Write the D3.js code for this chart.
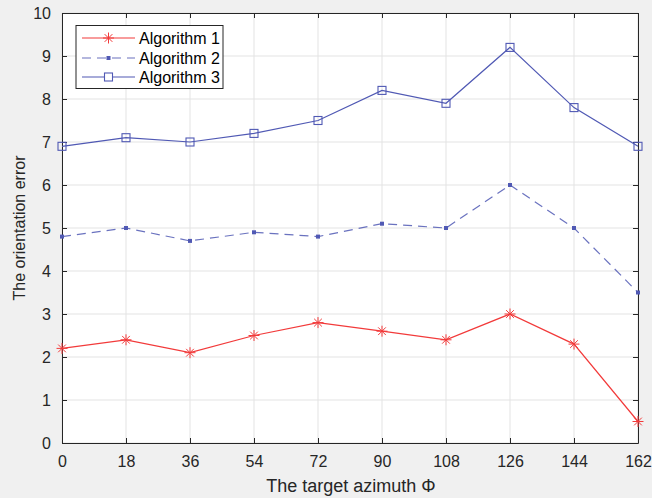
<!DOCTYPE html>
<html><head><meta charset="utf-8">
<script src="https://cdn.jsdelivr.net/npm/d3@7"></script>
<style>
html,body{margin:0;padding:0;background:#f0f0f0;}
svg{display:block;font-family:"Liberation Sans",Arial,sans-serif;}
</style></head>
<body>
<svg id="chart" width="652" height="498"></svg>
<script>
const azimuth = [0, 18, 36, 54, 72, 90, 108, 126, 144, 162];
const algorithm1 = [2.2, 2.4, 2.1, 2.5, 2.8, 2.6, 2.4, 3.0, 2.3, 0.5];
const algorithm2 = [4.8, 5.0, 4.7, 4.9, 4.8, 5.1, 5.0, 6.0, 5.0, 3.5];
const algorithm3 = [6.9, 7.1, 7.0, 7.2, 7.5, 8.2, 7.9, 9.2, 7.8, 6.9];
const seriesNames = ["Algorithm 1", "Algorithm 2", "Algorithm 3"];
const yTicks = [0,1,2,3,4,5,6,7,8,9,10];

const svg = d3.select("#chart");
const L = 62, R = 638, T = 13, B = 443;
const x = d3.scaleLinear().domain([0,162]).range([L,R]);
const y = d3.scaleLinear().domain([0,10]).range([B,T]);

svg.append("rect").attr("width",652).attr("height",498).attr("fill","#f0f0f0");
svg.append("rect").attr("x",L).attr("y",T).attr("width",R-L).attr("height",B-T).attr("fill","#fff");

// grid
const g = svg.append("g");
g.selectAll(".gx").data(azimuth).join("line")
  .attr("x1",d=>x(d)).attr("x2",d=>x(d)).attr("y1",T).attr("y2",B)
  .attr("stroke","#e3e3e3").attr("stroke-width",1);
g.selectAll(".gy").data(yTicks).join("line")
  .attr("x1",L).attr("x2",R).attr("y1",d=>y(d)).attr("y2",d=>y(d))
  .attr("stroke","#e3e3e3").attr("stroke-width",1);

// axes
const axColor = "#262626";
const xb = svg.append("g").attr("transform",`translate(0,${B})`)
  .call(d3.axisBottom(x).tickValues(azimuth).tickSizeInner(-5).tickSizeOuter(0).tickPadding(13));
const xt = svg.append("g").attr("transform",`translate(0,${T})`)
  .call(d3.axisTop(x).tickValues(azimuth).tickSizeInner(-5).tickSizeOuter(0).tickFormat(""));
const yl = svg.append("g").attr("transform",`translate(${L},0)`)
  .call(d3.axisLeft(y).tickValues(yTicks).tickSizeInner(-5).tickSizeOuter(0).tickPadding(11));
const yr = svg.append("g").attr("transform",`translate(${R},0)`)
  .call(d3.axisRight(y).tickValues(yTicks).tickSizeInner(-5).tickSizeOuter(0).tickFormat(""));
[xb,xt,yl,yr].forEach(a=>{
  a.select(".domain").attr("stroke",axColor).attr("stroke-width",1);
  a.selectAll(".tick line").attr("stroke",axColor);
  a.selectAll(".tick text").attr("fill","#262626").attr("font-size",16)
   .attr("font-family","Liberation Sans, Arial, sans-serif");
});

const line = d3.line().x((d,i)=>x(azimuth[i])).y(d=>y(d));
const red = "#f23a3a", blue = "#5059b4";

// Algorithm 1
svg.append("path").datum(algorithm1).attr("d",line).attr("fill","none").attr("stroke",red).attr("stroke-width",1.2);
function star(sel, cx, cy, col){
  const r=5.5;
  const gg = sel.append("g").attr("stroke",col).attr("stroke-width",1);
  gg.append("line").attr("x1",cx-r).attr("x2",cx+r).attr("y1",cy).attr("y2",cy);
  gg.append("line").attr("x1",cx).attr("x2",cx).attr("y1",cy-r).attr("y2",cy+r);
  const k=r*0.7;
  gg.append("line").attr("x1",cx-k).attr("x2",cx+k).attr("y1",cy-k).attr("y2",cy+k);
  gg.append("line").attr("x1",cx-k).attr("x2",cx+k).attr("y1",cy+k).attr("y2",cy-k);
}
algorithm1.forEach((v,i)=>star(svg,x(azimuth[i]),y(v),red));

// Algorithm 2
svg.append("path").datum(algorithm2).attr("d",line).attr("fill","none").attr("stroke",blue).attr("stroke-width",1.2).attr("stroke-dasharray","9,6").attr("opacity",0.85);
svg.selectAll(".m2").data(algorithm2).join("rect")
  .attr("x",(d,i)=>x(azimuth[i])-2).attr("y",d=>y(d)-2).attr("width",4).attr("height",4).attr("fill",blue);

// Algorithm 3
svg.append("path").datum(algorithm3).attr("d",line).attr("fill","none").attr("stroke",blue).attr("stroke-width",1.2);
svg.selectAll(".m3").data(algorithm3).join("rect")
  .attr("x",(d,i)=>x(azimuth[i])-4).attr("y",d=>y(d)-4).attr("width",8).attr("height",8)
  .attr("fill","none").attr("stroke",blue).attr("stroke-width",1.1);

// legend
const lg = svg.append("g");
lg.append("rect").attr("x",76).attr("y",25.5).attr("width",147).attr("height",63)
  .attr("fill","#fff").attr("stroke","#262626").attr("stroke-width",1);
const rows = [38, 58, 77];
rows.forEach((ry,i)=>{
  const ln = lg.append("line").attr("x1",82).attr("x2",135).attr("y1",ry).attr("y2",ry)
    .attr("stroke", i===0?red:blue).attr("stroke-width",1.2);
  if(i===1) ln.attr("stroke-dasharray","9,6").attr("opacity",0.85);
  if(i===0) star(lg,108.5,ry,red);
  if(i===1) lg.append("rect").attr("x",106.5).attr("y",ry-2).attr("width",4).attr("height",4).attr("fill",blue);
  if(i===2) lg.append("rect").attr("x",104.5).attr("y",ry-4).attr("width",8).attr("height",8).attr("fill","#fff").attr("stroke",blue).attr("stroke-width",1.1);
  lg.append("text").attr("x",139).attr("y",ry+5.5).attr("font-size",16).attr("fill","#000").text(seriesNames[i]);
});

// axis labels
svg.append("text").attr("x",351).attr("y",492).attr("text-anchor","middle")
  .attr("font-size",18).attr("fill","#262626").text("The target azimuth Φ");
svg.append("text").attr("transform",`translate(25,${(T+B)/2}) rotate(-90)`).attr("text-anchor","middle")
  .attr("font-size",16).attr("fill","#262626").text("The orientation error");
</script>
</body></html>
